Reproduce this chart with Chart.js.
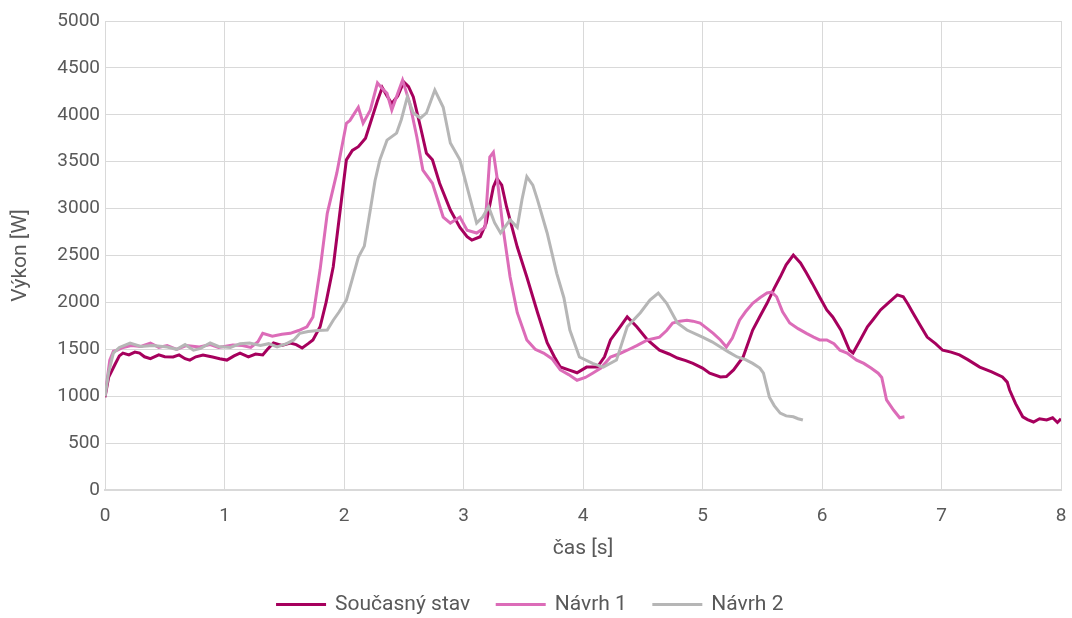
<!DOCTYPE html>
<html>
<head>
<meta charset="utf-8">
<script src="https://cdn.jsdelivr.net/npm/chart.js@4.4.1/dist/chart.umd.min.js"></script>
<style>
  html, body { margin: 0; padding: 0; background: #fff; }
  #wrap { width: 1072px; height: 618px; }
</style>
</head>
<body>
<div id="wrap"><canvas id="chart" width="1072" height="618"></canvas></div>
<script>
var seriesNames = ["Současný stav", "Návrh 1", "Návrh 2"];
var xTicks = [0, 1, 2, 3, 4, 5, 6, 7, 8];
var yTicks = [0, 500, 1000, 1500, 2000, 2500, 3000, 3500, 4000, 4500, 5000];

// Současný stav
var t0 = [0, 0.03, 0.08, 0.12, 0.15, 0.2, 0.25, 0.29, 0.33, 0.38,
  0.45, 0.5, 0.57, 0.62, 0.67, 0.71, 0.76, 0.82, 0.9, 0.96,
  1.02, 1.08, 1.13, 1.2, 1.26, 1.32, 1.36, 1.41, 1.48, 1.55,
  1.6, 1.65, 1.7, 1.74, 1.8, 1.85, 1.91, 1.96, 2.02, 2.07,
  2.12, 2.18, 2.23, 2.28, 2.32, 2.36, 2.4, 2.45, 2.5, 2.54,
  2.58, 2.64, 2.69, 2.74, 2.8, 2.89, 2.97, 3.03, 3.07, 3.14,
  3.19, 3.25, 3.28, 3.32, 3.36, 3.45, 3.53, 3.62, 3.7, 3.76,
  3.81, 3.88, 3.95, 4.03, 4.12, 4.18, 4.23, 4.3, 4.37, 4.45,
  4.54, 4.64, 4.72, 4.79, 4.86, 4.92, 5.0, 5.06, 5.15, 5.2,
  5.26, 5.34, 5.42, 5.48, 5.54, 5.6, 5.65, 5.7, 5.76, 5.82,
  5.87, 5.92, 5.98, 6.04, 6.09, 6.16, 6.23, 6.26, 6.32, 6.38,
  6.43, 6.49, 6.56, 6.63, 6.68, 6.72, 6.76, 6.82, 6.88, 6.95,
  7.01, 7.08, 7.15, 7.22, 7.32, 7.42, 7.51, 7.55, 7.57, 7.62,
  7.68, 7.72, 7.77, 7.82, 7.88, 7.93, 7.97, 8.0];
var p0 = [990, 1200, 1330, 1430, 1460, 1440, 1470, 1460, 1420, 1400,
  1440, 1420, 1418, 1440, 1400, 1385, 1420, 1440, 1418, 1400,
  1385, 1430, 1460, 1420, 1450, 1440, 1500, 1567, 1540, 1567,
  1550, 1514, 1560, 1600, 1740, 2000, 2380, 2900, 3520, 3620,
  3660, 3750, 3950, 4150, 4290, 4200, 4120, 4200, 4350, 4300,
  4190, 3870, 3590, 3520, 3270, 2985, 2800, 2700, 2665, 2700,
  2845, 3230, 3320, 3250, 3020, 2590, 2270, 1890, 1570, 1420,
  1311, 1280, 1250, 1310, 1310, 1420, 1600, 1720, 1845, 1740,
  1600, 1490, 1450, 1407, 1380, 1350, 1300, 1245, 1205, 1210,
  1280, 1418, 1705, 1850, 1990, 2150, 2270, 2400, 2505, 2420,
  2313, 2200, 2057, 1920, 1845, 1700, 1490, 1460, 1600, 1740,
  1820, 1920, 2000, 2080, 2060, 1980, 1890, 1760, 1630, 1560,
  1490, 1470, 1440, 1390, 1310, 1260, 1205, 1150, 1066, 920,
  780, 750, 725, 760, 746, 770, 720, 760];

// Návrh 1
var t1 = [0, 0.04, 0.07, 0.1, 0.15, 0.22, 0.3, 0.38, 0.45, 0.52,
  0.6, 0.68, 0.79, 0.88, 0.95, 1.07, 1.15, 1.22, 1.28, 1.32,
  1.4, 1.48, 1.55, 1.62, 1.69, 1.74, 1.8, 1.86, 1.94, 2.02,
  2.05, 2.09, 2.12, 2.16, 2.22, 2.28, 2.32, 2.36, 2.4, 2.45,
  2.49, 2.55, 2.61, 2.66, 2.74, 2.83, 2.89, 2.97, 3.03, 3.11,
  3.18, 3.22, 3.25, 3.28, 3.33, 3.39, 3.45, 3.53, 3.6, 3.67,
  3.74, 3.81, 3.88, 3.95, 4.02, 4.08, 4.15, 4.23, 4.3, 4.37,
  4.45, 4.54, 4.64, 4.7, 4.75, 4.81, 4.87, 4.92, 4.98, 5.04,
  5.09, 5.15, 5.2, 5.25, 5.31, 5.36, 5.42, 5.48, 5.54, 5.58,
  5.62, 5.67, 5.73, 5.8, 5.87, 5.93, 5.98, 6.04, 6.1, 6.15,
  6.21, 6.29, 6.35, 6.41, 6.47, 6.5, 6.54, 6.6, 6.65, 6.69];
var p1 = [1000, 1385, 1480, 1490, 1520, 1540, 1530, 1567, 1520, 1540,
  1500, 1540, 1525, 1550, 1520, 1545, 1540, 1520, 1580, 1670,
  1640, 1660, 1670, 1700, 1740, 1845, 2350, 2950, 3380, 3910,
  3940, 4020, 4080, 3910, 4050, 4340, 4280, 4230, 4050, 4230,
  4370, 4125, 3760, 3410, 3270, 2910, 2845, 2910, 2770, 2740,
  2800, 3550, 3600, 3340, 2800, 2270, 1890, 1600, 1500, 1460,
  1400, 1280, 1230, 1170, 1200, 1245, 1300, 1418, 1450, 1490,
  1540, 1600, 1630, 1700, 1780, 1800, 1810, 1800, 1780, 1720,
  1670, 1600, 1525, 1620, 1810, 1900, 1990, 2050, 2100, 2110,
  2060, 1900, 1780, 1720, 1670, 1630, 1600, 1600, 1560, 1490,
  1460, 1385, 1350, 1300, 1245, 1200, 960, 850, 770, 780];

// Návrh 2
var t2 = [0, 0.03, 0.07, 0.12, 0.21, 0.3, 0.4, 0.52, 0.6, 0.67,
  0.74, 0.8, 0.88, 0.95, 1.05, 1.13, 1.21, 1.3, 1.37, 1.44,
  1.52, 1.58, 1.63, 1.7, 1.78, 1.86, 1.91, 1.96, 2.02, 2.07,
  2.12, 2.17, 2.22, 2.26, 2.3, 2.36, 2.44, 2.48, 2.53, 2.58,
  2.64, 2.69, 2.76, 2.83, 2.89, 2.97, 3.03, 3.11, 3.16, 3.21,
  3.26, 3.31, 3.39, 3.45, 3.49, 3.53, 3.58, 3.62, 3.7, 3.78,
  3.84, 3.89, 3.97, 4.08, 4.17, 4.28, 4.37, 4.48, 4.56, 4.63,
  4.7, 4.79, 4.87, 5.0, 5.08, 5.15, 5.22, 5.29, 5.36, 5.42,
  5.48, 5.51, 5.56, 5.6, 5.65, 5.7, 5.76, 5.8, 5.84];
var p2 = [1000, 1250, 1460, 1520, 1567, 1530, 1540, 1525, 1500, 1550,
  1490, 1510, 1567, 1530, 1520, 1560, 1567, 1540, 1560, 1525,
  1560, 1600, 1670, 1690, 1700, 1705, 1810, 1900, 2025, 2250,
  2480, 2600, 2985, 3300, 3520, 3730, 3805, 3950, 4190, 4020,
  3965, 4020, 4264, 4080, 3700, 3520, 3230, 2845, 2910, 3020,
  2850, 2740, 2880, 2800, 3100, 3340, 3250, 3090, 2740, 2310,
  2050, 1705, 1418, 1350, 1310, 1385, 1740, 1890, 2025, 2100,
  1990, 1780, 1705, 1630, 1580, 1525, 1470, 1418, 1390, 1350,
  1300, 1245, 990, 900, 820, 790, 780, 760, 746];

var colors = ["rgb(166,0,93)", "rgb(220,108,184)", "rgb(182,182,182)"];

function pts(xs, ys) {
  var out = [];
  for (var i = 0; i < xs.length; i++) out.push({x: xs[i], y: ys[i]});
  return out;
}

var txt = "#595959";
var grid = "#d9d9d9";
var fnt = "Roboto, 'Liberation Sans', sans-serif";

var sets = [[t0, p0], [t1, p1], [t2, p2]].map(function (s, i) {
  return {
    label: seriesNames[i],
    data: pts(s[0], s[1]),
    borderColor: colors[i],
    backgroundColor: colors[i],
    borderWidth: 3,
    pointRadius: 0,
    tension: 0,
    order: 3 - i
  };
});

new Chart(document.getElementById("chart"), {
  type: "line",
  data: { datasets: sets },
  options: {
    responsive: false,
    animation: false,
    layout: { padding: { left: 0, right: 11, top: 21, bottom: -7 } },
    plugins: {
      tooltip: { enabled: false },
      legend: {
        position: "bottom",
        labels: {
          boxWidth: 47, boxHeight: 0.01, padding: 27,
          color: txt, font: { family: fnt, size: 21 },
          sort: function (a, b) { return a.datasetIndex - b.datasetIndex; }
        }
      }
    },
    scales: {
      x: {
        type: "linear", min: 0, max: 8,
        afterBuildTicks: function (s) { s.ticks = xTicks.map(function (v) { return {value: v}; }); },
        grid: { color: grid, lineWidth: 1, drawTicks: false },
        border: { color: grid, width: 2 },
        ticks: { color: txt, font: { family: fnt, size: 19 }, padding: 15, maxRotation: 0 },
        title: { display: true, text: "čas [s]", color: txt, font: { family: fnt, size: 21 }, padding: { top: 4, bottom: 6 } },
        afterFit: function (s) { s.height = 77; s.paddingLeft = 0; s.paddingRight = 0; }
      },
      y: {
        min: 0, max: 5000,
        afterBuildTicks: function (s) { s.ticks = yTicks.map(function (v) { return {value: v}; }); },
        grid: { color: grid, lineWidth: 1, drawTicks: false },
        border: { color: grid, width: 1 },
        ticks: { color: txt, font: { family: fnt, size: 19 }, padding: 5,
          callback: function (v) { return String(v); } },
        title: { display: true, text: "Výkon [W]", color: txt, font: { family: fnt, size: 21 }, padding: { top: 8, bottom: 4 } },
        afterFit: function (s) { s.width = 105; s.paddingTop = 0; s.paddingBottom = 0; }
      }
    }
  }
});
</script>
</body>
</html>
